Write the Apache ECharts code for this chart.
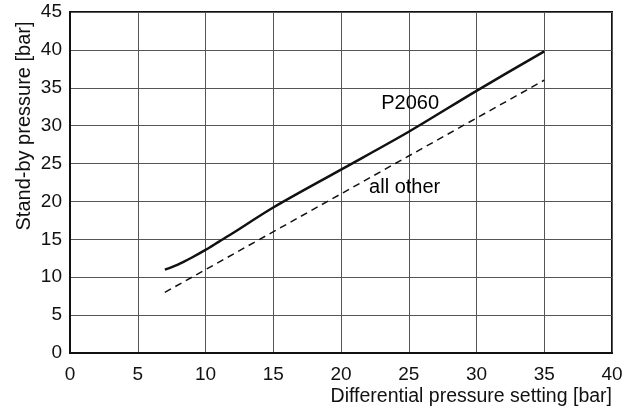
<!DOCTYPE html>
<html>
<head>
<meta charset="utf-8">
<script src="https://cdn.jsdelivr.net/npm/echarts@6/dist/echarts.min.js"></script>
<style>
  html, body { margin: 0; padding: 0; background: #fff; }
  #chart { width: 628px; height: 411px; }
</style>
</head>
<body>
<div id="chart"></div>
<script>
// differential pressure setting [bar] vs stand-by pressure [bar]
const p2060X = [7, 8, 9, 10, 11, 12, 15, 20, 25, 30, 35]
const p2060Y = [11, 11.7, 12.6, 13.6, 14.7, 15.8, 19.2, 24.2, 29.2, 34.6, 39.8]
const otherX = [7, 35]
const otherY = [8, 36]

// curve labels: [x, y, text]
const curveLabels = [
  [25.1, 32.9, 'P2060'],
  [24.7, 21.8, 'all other']
]

const font = 'Liberation Sans, Arial, sans-serif'

const chart = echarts.init(document.getElementById('chart'))
chart.setOption({
  animation: false,
  grid: {
    left: 70, right: 16, top: 12, bottom: 58,
    show: true, borderColor: '#111', borderWidth: 2
  },
  xAxis: {
    type: 'value', min: 0, max: 40, interval: 5,
    axisLine: { lineStyle: { color: '#111', width: 2 } },
    axisTick: { show: false },
    axisLabel: { color: '#111', fontSize: 19, fontFamily: font, margin: 12 },
    splitLine: { lineStyle: { color: '#555', width: 1 } }
  },
  yAxis: {
    type: 'value', min: 0, max: 45, interval: 5,
    axisLine: { show: true, lineStyle: { color: '#111', width: 2 } },
    axisTick: { show: false },
    axisLabel: { color: '#111', fontSize: 19, fontFamily: font, margin: 8 },
    splitLine: { lineStyle: { color: '#555', width: 1 } }
  },
  graphic: [
    {
      type: 'text', x: 24, y: 126, rotation: Math.PI / 2,
      style: {
        text: 'Stand-by pressure [bar]', fill: '#111', font: '20px ' + font,
        align: 'center', verticalAlign: 'middle'
      }
    },
    {
      type: 'text', x: 612, y: 397,
      style: {
        text: 'Differential pressure setting [bar]', fill: '#111', font: '19.5px ' + font,
        align: 'right', verticalAlign: 'middle'
      }
    }
  ],
  series: [
    {
      name: 'P2060', type: 'line', symbol: 'none', smooth: 0.3,
      data: p2060X.map((x, i) => [x, p2060Y[i]]),
      lineStyle: { color: '#111', width: 2.5 }
    },
    {
      name: 'all other', type: 'line', symbol: 'none',
      data: otherX.map((x, i) => [x, otherY[i]]),
      lineStyle: { color: '#111', width: 1.5, type: [7, 5] }
    },
    {
      type: 'scatter', symbolSize: 0, silent: true,
      data: curveLabels.map(d => ({ value: [d[0], d[1]], name: d[2] })),
      label: {
        show: true, position: 'inside', formatter: p => p.name,
        color: '#000', fontSize: 20, fontFamily: font
      },
      itemStyle: { opacity: 1 }
    }
  ]
})
</script>
</body>
</html>
